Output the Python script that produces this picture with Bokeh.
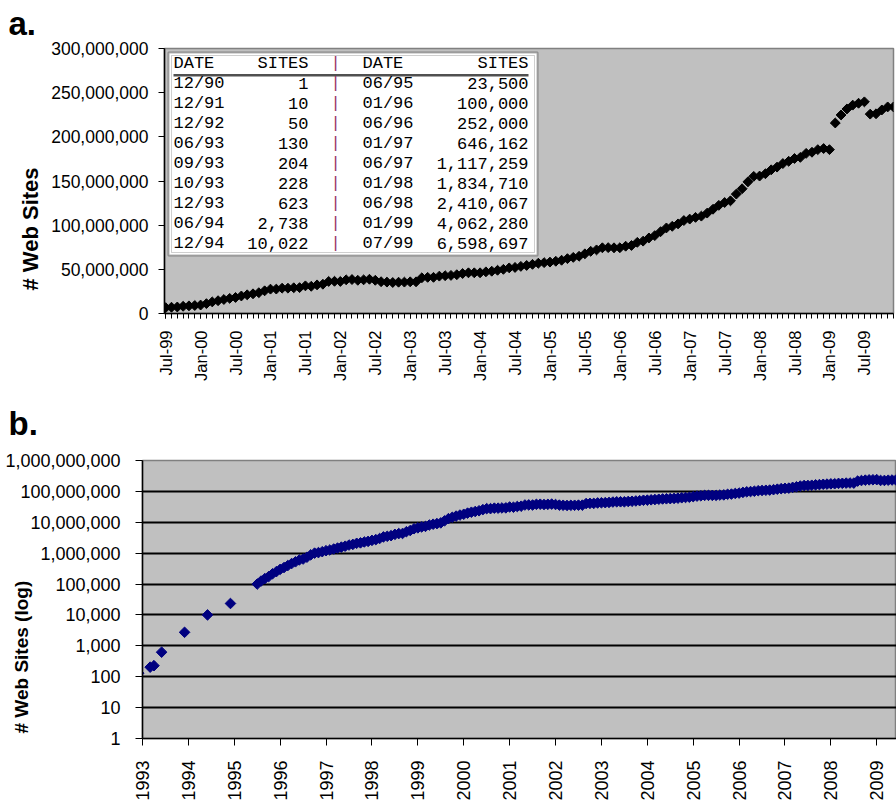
from math import pi

import pandas as pd
from bokeh.core.properties import value
from bokeh.embed import file_html
from bokeh.models import (BoxAnnotation, ColumnDataSource, CustomJSTickFormatter,
                          FixedTicker, LabelSet, NumeralTickFormatter, Range1d, Title)
from bokeh.plotting import figure
from bokeh.resources import INLINE

# ---- early web-site counts (inset table) ----
table_dates_left = ["12/90", "12/91", "12/92", "06/93", "09/93", "10/93", "12/93", "06/94", "12/94"]
table_sites_left = [1, 10, 50, 130, 204, 228, 623, 2738, 10022]
table_dates_right = ["06/95", "01/96", "06/96", "01/97", "06/97", "01/98", "06/98", "01/99", "07/99"]
table_sites_right = [23500, 100000, 252000, 646162, 1117259, 1834710, 2410067, 4062280, 6598697]

# ---- monthly survey counts, millions of sites, Feb 1996 .. Dec 2009 ----
sites_1996 = [0.125, 0.150, 0.175, 0.215, 0.252, 0.299, 0.342, 0.397, 0.462, 0.525, 0.603]
sites_1997 = [0.646162, 0.740, 0.883, 1.003, 1.044, 1.117259, 1.203, 1.270, 1.365, 1.466, 1.570, 1.682]
sites_1998 = [1.83471, 1.920, 2.084, 2.157, 2.308, 2.410067, 2.595, 2.737, 2.978, 3.359, 3.518, 3.689]
sites_1999 = [4.06228, 4.302, 4.347, 4.957, 5.405, 6.177, 6.598697, 7.08, 7.37, 8.14, 8.66, 9.06]
sites_2000 = [9.56, 11.16, 13.11, 14.50, 15.85, 17.12, 18.17, 19.82, 21.17, 22.28, 23.56, 25.68]
sites_2001 = [27.59, 27.65, 28.67, 28.67, 29.13, 29.30, 31.30, 30.78, 32.40, 33.14, 36.28, 36.46]
sites_2002 = [36.28, 38.12, 38.44, 37.59, 38.12, 38.76, 37.59, 35.99, 35.54, 35.09, 35.42, 35.54]
sites_2003 = [35.86, 35.86, 40.44, 40.94, 40.94, 42.30, 42.81, 43.12, 43.91, 45.25, 46.07, 46.07]
sites_2004 = [46.07, 47.17, 47.87, 48.93, 50.00, 51.64, 52.13, 53.34, 54.40, 55.64, 56.92, 57.58]
sites_2005 = [58.19, 59.14, 60.29, 62.08, 63.53, 64.81, 67.57, 70.39, 71.99, 74.41, 74.57, 74.38]
sites_2006 = [74.42, 76.18, 77.02, 80.56, 81.93, 85.54, 88.17, 92.62, 96.85, 98.69, 101.44, 105.24]
sites_2007 = [106.88, 108.81, 110.22, 113.66, 118.02, 122.43, 125.63, 127.57, 135.17, 141.24, 149.06, 155.23]
sites_2008 = [155.58, 158.21, 162.66, 165.72, 169.75, 172.34, 175.48, 176.75, 181.28, 182.56, 185.50, 186.73]
sites_2009 = [185.50, 215.68, 224.75, 231.51, 235.89, 238.03, 239.61, 225.72, 226.10, 230.44, 233.85, 233.85]

top_tick_labels = ["Jul-99", "Jan-00", "Jul-00", "Jan-01", "Jul-01", "Jan-02", "Jul-02",
                   "Jan-03", "Jul-03", "Jan-04", "Jul-04", "Jan-05", "Jul-05", "Jan-06",
                   "Jul-06", "Jan-07", "Jul-07", "Jan-08", "Jul-08", "Jan-09", "Jul-09"]
top_y_ticks = [0, 50e6, 100e6, 150e6, 200e6, 250e6, 300e6]
bottom_years = list(range(1993, 2010))
bottom_y_ticks = [10 ** k for k in range(10)]

FONT = "Liberation Sans"
MONO = "Liberation Mono"
PLOT_BG = "#C0C0C0"

monthly_m = (sites_1996 + sites_1997 + sites_1998 + sites_1999 + sites_2000 + sites_2001 +
             sites_2002 + sites_2003 + sites_2004 + sites_2005 + sites_2006 + sites_2007 +
             sites_2008 + sites_2009)
months = pd.date_range("1996-02-01", periods=len(monthly_m), freq="MS")
monthly = pd.DataFrame({"date": months, "sites": [v * 1e6 for v in monthly_m]})
monthly["year_frac"] = monthly["date"].dt.year + (monthly["date"].dt.month - 1) / 12.0


def frac_year(mmyy):
    mm, yy = mmyy.split("/")
    return 1900 + int(yy) + (int(mm) - 1) / 12.0


def style_axis(ax, size, standoff, tick_out):
    ax.major_label_text_font = FONT
    ax.major_label_text_font_size = size
    ax.major_label_text_color = "black"
    ax.major_label_standoff = standoff
    ax.major_tick_out = tick_out
    ax.major_tick_in = 0
    ax.axis_line_color = "black"
    ax.axis_line_width = 1.5


# ================= panel a: linear scale, Jul-99 onward =================
top = monthly[monthly["date"] >= "1999-07-01"].reset_index(drop=True)
top["idx"] = range(len(top))
n_top = len(top)

p1 = figure(width=896, height=388, output_backend="svg", toolbar_location=None,
            x_range=Range1d(-0.2, n_top - 1.0), y_range=Range1d(0, 300e6),
            min_border_left=164, min_border_right=3, min_border_top=47, min_border_bottom=75)
p1.background_fill_color = PLOT_BG
p1.border_fill_color = "white"
p1.outline_line_color = "#808080"
p1.outline_line_width = 1.5
p1.grid.visible = False

p1.scatter("idx", "sites", source=ColumnDataSource(top), marker="square", angle=pi / 4,
           size=7, fill_color="black", line_color="black", line_width=1)

xa = p1.xaxis[0]
xa.ticker = FixedTicker(ticks=list(range(0, n_top, 6)), minor_ticks=list(range(n_top)))
xa.major_label_overrides = {i * 6: lbl for i, lbl in enumerate(top_tick_labels)}
xa.major_label_orientation = pi / 2
style_axis(xa, "16.5px", 12, 5)
xa.minor_tick_out = 5
xa.minor_tick_in = 0
xa.minor_tick_line_color = "black"

ya = p1.yaxis[0]
ya.ticker = FixedTicker(ticks=top_y_ticks)
ya.formatter = NumeralTickFormatter(format="0,0")
style_axis(ya, "17.5px", 10, 6)
ya.minor_tick_line_color = None

p1.add_layout(Title(text="a.", align="left", vertical_align="top", offset=-156, standoff=9,
                    text_font=FONT, text_font_style="bold", text_font_size="33px",
                    text_color="black"), "above")
p1.add_layout(Title(text="# Web Sites", align="left", vertical_align="middle", offset=23,
                    standoff=10, text_font=FONT, text_font_style="bold",
                    text_font_size="22px", text_color="black"), "left")


# inset table of early counts
def screen_box(**kw):
    return BoxAnnotation(left_units="screen", right_units="screen",
                         bottom_units="screen", top_units="screen", **kw)


p1.add_layout(screen_box(left=4, right=373, bottom=58, top=261, fill_color="white",
                         fill_alpha=1.0, line_color="black", line_width=2))
p1.add_layout(screen_box(left=7, right=370, bottom=61, top=258, fill_alpha=0,
                         line_color="#606060", line_width=1))
p1.add_layout(screen_box(left=9, right=364, bottom=237, top=239.5, fill_color="#505050",
                         fill_alpha=1.0, line_color=None))

rows = ColumnDataSource(dict(
    y=[250] + [230 - 20 * i for i in range(len(table_dates_left))],
    d1=["DATE"] + table_dates_left,
    s1=["SITES"] + [f"{v:,}" for v in table_sites_left],
    sep=["|"] * (len(table_dates_left) + 1),
    d2=["DATE"] + table_dates_right,
    s2=["SITES"] + [f"{v:,}" for v in table_sites_right],
))
for field, xpos, align, color in [("d1", 9, "left", "black"), ("s1", 144, "right", "black"),
                                  ("sep", 171, "center", "#993366"),
                                  ("d2", 198, "left", "black"), ("s2", 364, "right", "black")]:
    p1.add_layout(LabelSet(x=xpos, y="y", text=field, source=rows,
                           x_units="screen", y_units="screen",
                           text_font=value(MONO), text_font_size="17px", text_color=color,
                           text_align=align, text_baseline="middle"))

# ================= panel b: log scale, 1993 onward =================
early_x = [frac_year(d) for d in table_dates_left + table_dates_right[:2]]
early_y = table_sites_left + table_sites_right[:2]

p2 = figure(width=896, height=415, output_backend="svg", toolbar_location=None,
            y_axis_type="log", x_range=Range1d(1993.5, 2009.93), y_range=Range1d(1, 1e9),
            min_border_left=142, min_border_right=0, min_border_top=72, min_border_bottom=65)
p2.background_fill_color = PLOT_BG
p2.border_fill_color = "white"
p2.outline_line_color = "#808080"
p2.outline_line_width = 1.5
p2.xgrid.visible = False

y_ticker = FixedTicker(ticks=bottom_y_ticks)
p2.ygrid.ticker = y_ticker
p2.ygrid.grid_line_color = "black"
p2.ygrid.grid_line_width = 2

navy = "#000080"
p2.scatter(early_x, early_y, marker="square", angle=pi / 4, size=7.5,
           fill_color=navy, line_color=navy)
p2.scatter("year_frac", "sites", source=ColumnDataSource(monthly), marker="square",
           angle=pi / 4, size=7.5, fill_color=navy, line_color=navy)

xb = p2.xaxis[0]
xb.ticker = FixedTicker(ticks=[y + 0.5 for y in bottom_years])
xb.formatter = CustomJSTickFormatter(code="return String(Math.floor(tick));")
xb.major_label_orientation = pi / 2
style_axis(xb, "18px", 15, 7)
xb.minor_tick_line_color = None

yb = p2.yaxis[0]
yb.ticker = y_ticker
yb.formatter = NumeralTickFormatter(format="0,0")
style_axis(yb, "18px", 15, 7)
yb.minor_tick_line_color = None

p2.add_layout(Title(text="b.", align="left", vertical_align="top", offset=-134, standoff=33,
                    text_font=FONT, text_font_style="bold", text_font_size="33px",
                    text_color="black"), "above")
p2.add_layout(Title(text="# Web Sites (log)", align="left", vertical_align="bottom",
                    offset=5, standoff=-58, text_font=FONT, text_font_style="bold",
                    text_font_size="19px", text_color="black"), "left")

open("out.html", "w").write(file_html([p1, p2], INLINE))
